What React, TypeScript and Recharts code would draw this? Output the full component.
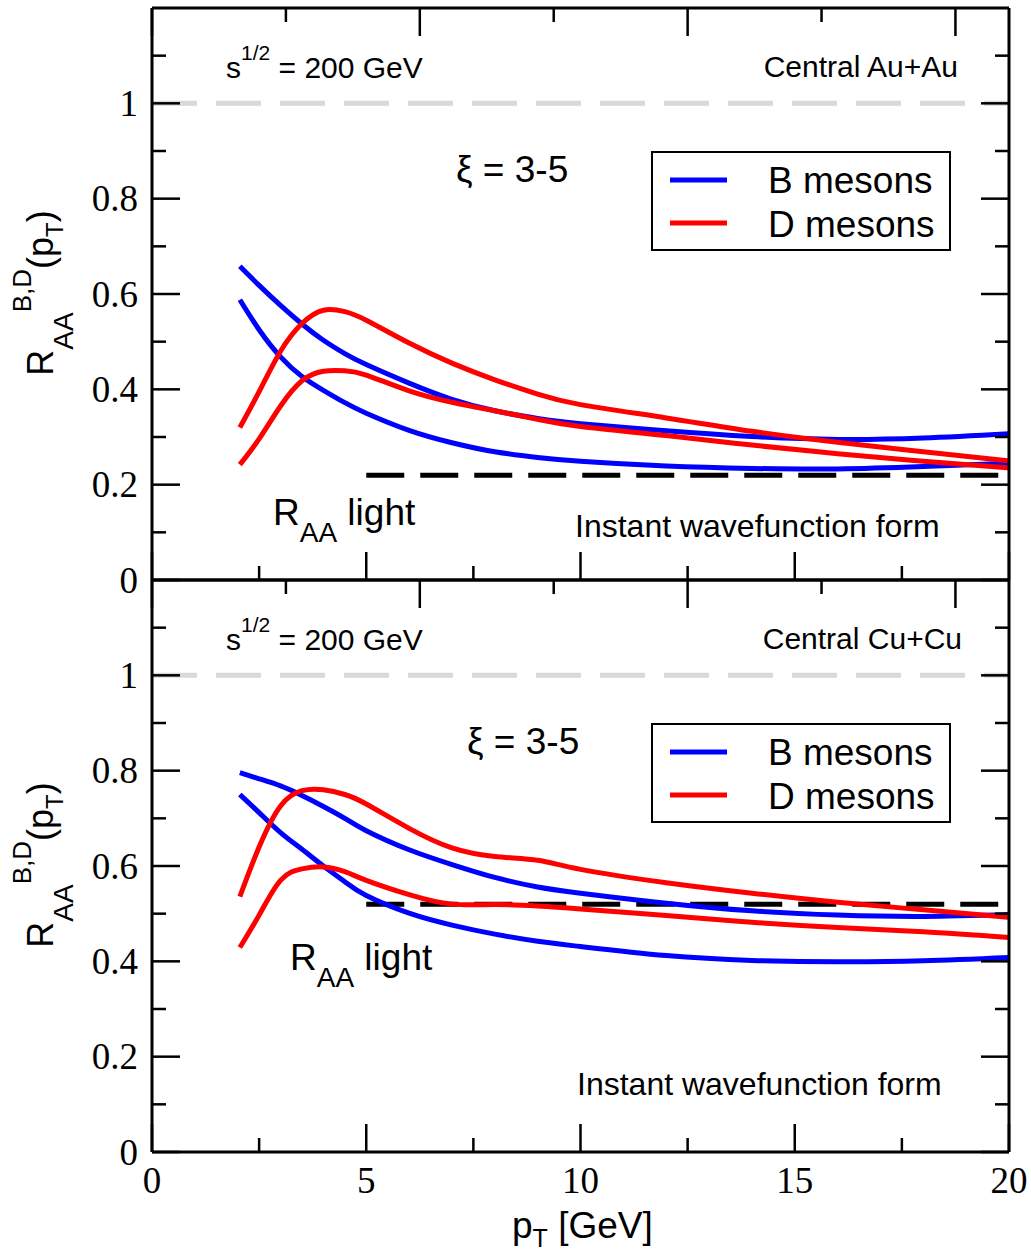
import React from 'react'
import { LineChart, Line, XAxis, YAxis, ReferenceLine } from 'recharts'

// transverse momentum grid (GeV)
const PT = [2.05, 2.5, 3, 3.5, 4, 4.5, 5, 6, 7, 8, 9, 10, 12, 14, 16, 18, 20]

// central Au+Au
const AU_B_HI = [0.658, 0.618, 0.576, 0.537, 0.503, 0.475, 0.452, 0.413, 0.379, 0.355, 0.339, 0.328, 0.313, 0.301, 0.295, 0.298, 0.307]
const AU_B_LO = [0.588, 0.525, 0.468, 0.427, 0.398, 0.372, 0.35, 0.314, 0.288, 0.269, 0.257, 0.249, 0.239, 0.234, 0.233, 0.238, 0.245]
const AU_D_HI = [0.32, 0.395, 0.48, 0.538, 0.566, 0.563, 0.545, 0.497, 0.455, 0.42, 0.39, 0.368, 0.34, 0.312, 0.289, 0.269, 0.25]
const AU_D_LO = [0.242, 0.296, 0.365, 0.418, 0.438, 0.439, 0.43, 0.397, 0.373, 0.355, 0.337, 0.322, 0.303, 0.283, 0.265, 0.249, 0.235]

// central Cu+Cu
const CU_B_HI = [0.796, 0.783, 0.768, 0.748, 0.725, 0.7, 0.674, 0.634, 0.603, 0.576, 0.556, 0.543, 0.522, 0.506, 0.497, 0.494, 0.498]
const CU_B_LO = [0.75, 0.712, 0.67, 0.635, 0.6, 0.567, 0.538, 0.501, 0.476, 0.457, 0.442, 0.431, 0.412, 0.402, 0.399, 0.401, 0.408]
const CU_D_HI = [0.536, 0.64, 0.726, 0.758, 0.76, 0.75, 0.73, 0.679, 0.638, 0.62, 0.612, 0.593, 0.565, 0.543, 0.524, 0.508, 0.492]
const CU_D_LO = [0.429, 0.497, 0.57, 0.594, 0.598, 0.588, 0.57, 0.54, 0.52, 0.519, 0.516, 0.51, 0.496, 0.482, 0.471, 0.462, 0.45]

// light hadron R_AA (dashed black), drawn from pT = 5
const RAA_LIGHT_AU = 0.22
const RAA_LIGHT_CU = 0.52
const LIGHT_FROM = 5

const X_TICKS = [0, 2.5, 5, 7.5, 10, 12.5, 15, 17.5, 20]
const Y_TICKS = [0, 0.1, 0.2, 0.3, 0.4, 0.5, 0.6, 0.7, 0.8, 0.9, 1, 1.1]

const SANS = '"Liberation Sans", Arial, Helvetica, sans-serif'
const SERIF = '"Liberation Serif", "Times New Roman", serif'
const BLUE = '#0000ff'
const RED = '#ff0000'

const W = 1031
const CH = 640
const PLOT_TOP = 8
const PLOT_BOTTOM = 580

function buildRows(bHi: number[], bLo: number[], dHi: number[], dLo: number[], light: number) {
  return PT.map((pt, i) => ({
    pt,
    bHi: bHi[i],
    bLo: bLo[i],
    dHi: dHi[i],
    dLo: dLo[i],
    light: pt >= LIGHT_FROM ? light : null,
  }))
}

function fmtY(v: number) {
  if (v === 0) return '0'
  if (v === 1) return '1'
  return v.toFixed(1)
}

function YTick(props: any) {
  const { x, y, payload, side } = props
  const v = payload.value
  const major = Math.round(v * 10) % 2 === 0
  const len = major ? 28 : 14
  const dir = side === 'left' ? 1 : -1
  return (
    <g>
      <line x1={x} y1={y} x2={x + dir * len} y2={y} stroke="#000" strokeWidth={2.5} />
      {side === 'left' && major && (
        <text x={x - 14} y={y} textAnchor="end" dominantBaseline="central" fontFamily={SERIF} fontSize={37} fill="#000">
          {fmtY(v)}
        </text>
      )}
    </g>
  )
}

function XTick(props: any) {
  const { x, y, payload, side, showLabel } = props
  const v = payload.value
  const major = v % 5 === 0
  const len = major ? 28 : 14
  const dir = side === 'bottom' ? -1 : 1
  return (
    <g>
      <line x1={x} y1={y} x2={x} y2={y + dir * len} stroke="#000" strokeWidth={2.5} />
      {side === 'bottom' && showLabel && major && (
        <text x={x} y={y + 41} textAnchor="middle" fontFamily={SERIF} fontSize={37} fill="#000">
          {v}
        </text>
      )}
    </g>
  )
}

interface PanelProps {
  top: number
  rows: ReturnType<typeof buildRows>
  system: string
  systemX: number
  xiX: number
  lightX: number
  lightY: number
  noteX: number
  noteY: number
  showXLabels: boolean
}

function Panel({ top, rows, system, systemX, xiX, lightX, lightY, noteX, noteY, showXLabels }: PanelProps) {
  const axisLine = { stroke: '#000', strokeWidth: 3 }
  return (
    <div style={{ position: 'absolute', left: 0, top, width: W, height: 680 }}>
      <LineChart width={W} height={CH} data={rows} margin={{ top: PLOT_TOP - 1, right: 21, bottom: CH - PLOT_BOTTOM - 40, left: 92 }}>
        <XAxis dataKey="pt" type="number" domain={[0, 20]} ticks={X_TICKS} interval={0} height={40}
          tickSize={0} tickMargin={0} axisLine={axisLine} tickLine={false}
          tick={(p: any) => <XTick {...p} side="bottom" showLabel={showXLabels} />} />
        <XAxis xAxisId="top" orientation="top" type="number" domain={[0, 20]} allowDataOverflow ticks={X_TICKS} interval={0} height={1}
          tickSize={0} tickMargin={0} axisLine={axisLine} tickLine={false}
          tick={(p: any) => <XTick {...p} side="top" />} />
        <YAxis type="number" domain={[0, 1.2]} allowDataOverflow ticks={Y_TICKS} interval={0} width={60}
          tickSize={0} tickMargin={0} axisLine={axisLine} tickLine={false}
          tick={(p: any) => <YTick {...p} side="left" />} />
        <YAxis yAxisId="right" orientation="right" type="number" domain={[0, 1.2]} allowDataOverflow ticks={Y_TICKS} interval={0} width={1}
          tickSize={0} tickMargin={0} axisLine={axisLine} tickLine={false}
          tick={(p: any) => <YTick {...p} side="right" />} />
        <ReferenceLine y={1} stroke="#d9d9d9" strokeWidth={5} strokeDasharray="45 19" />
        <Line type="linear" dataKey="light" stroke="#000" strokeWidth={5} strokeDasharray="38 16" dot={false} isAnimationActive={false} />
        <Line type="natural" dataKey="bHi" stroke={BLUE} strokeWidth={5} dot={false} isAnimationActive={false} />
        <Line type="natural" dataKey="bLo" stroke={BLUE} strokeWidth={5} dot={false} isAnimationActive={false} />
        <Line type="natural" dataKey="dHi" stroke={RED} strokeWidth={5} dot={false} isAnimationActive={false} />
        <Line type="natural" dataKey="dLo" stroke={RED} strokeWidth={5} dot={false} isAnimationActive={false} />
      </LineChart>
      <svg width={W} height={680} style={{ position: 'absolute', left: 0, top: 0, pointerEvents: 'none' }} fontFamily={SANS}>
        <text x={226} y={78} fontSize={30}>
          s<tspan dy={-18} fontSize={21}>1/2</tspan><tspan dy={18}> = 200 GeV</tspan>
        </text>
        <text x={systemX} y={77} fontSize={30} textAnchor="end">{system}</text>
        <text x={xiX} y={182} fontSize={37}>ξ = 3-5</text>
        <text x={lightX} y={lightY} fontSize={37}>
          R<tspan dy={17} fontSize={28}>AA</tspan><tspan dy={-17} fontSize={37}> light</tspan>
        </text>
        <text x={noteX} y={noteY} fontSize={32}>Instant wavefunction form</text>

        <rect x={652} y={152} width={298} height={98} fill="#fff" stroke="#000" strokeWidth={2} />
        <line x1={670} x2={727} y1={180} y2={180} stroke={BLUE} strokeWidth={5} />
        <line x1={670} x2={727} y1={223} y2={223} stroke={RED} strokeWidth={5} />
        <text x={768} y={193} fontSize={37}>B mesons</text>
        <text x={768} y={237} fontSize={37}>D mesons</text>

        <text transform="translate(53,293) rotate(-90)" textAnchor="middle">
          <tspan fontSize={36}>R</tspan>
          <tspan dy={20} fontSize={28}>AA</tspan>
          <tspan dy={-42} fontSize={26}>B,D</tspan>
          <tspan dy={22} fontSize={36}>(p</tspan>
          <tspan dy={10} fontSize={24}>T</tspan>
          <tspan dy={-10} fontSize={36}>)</tspan>
        </text>

        {showXLabels && (
          <text x={512} y={666} fontSize={37}>
            p<tspan dy={9} fontSize={25}>T</tspan><tspan dy={-9} fontSize={37}> [GeV]</tspan>
          </text>
        )}
      </svg>
    </div>
  )
}

export default function App() {
  const auRows = buildRows(AU_B_HI, AU_B_LO, AU_D_HI, AU_D_LO, RAA_LIGHT_AU)
  const cuRows = buildRows(CU_B_HI, CU_B_LO, CU_D_HI, CU_D_LO, RAA_LIGHT_CU)
  return (
    <div style={{ position: 'absolute', left: 0, top: 0, width: W, height: 1251, overflow: 'hidden', background: '#fff' }}>
      <Panel top={0} rows={auRows} system="Central Au+Au" systemX={958} xiX={456}
        lightX={273} lightY={525} noteX={575} noteY={537} showXLabels={false} />
      <Panel top={572} rows={cuRows} system="Central Cu+Cu" systemX={962} xiX={467}
        lightX={290} lightY={398} noteX={577} noteY={523} showXLabels />
    </div>
  )
}
